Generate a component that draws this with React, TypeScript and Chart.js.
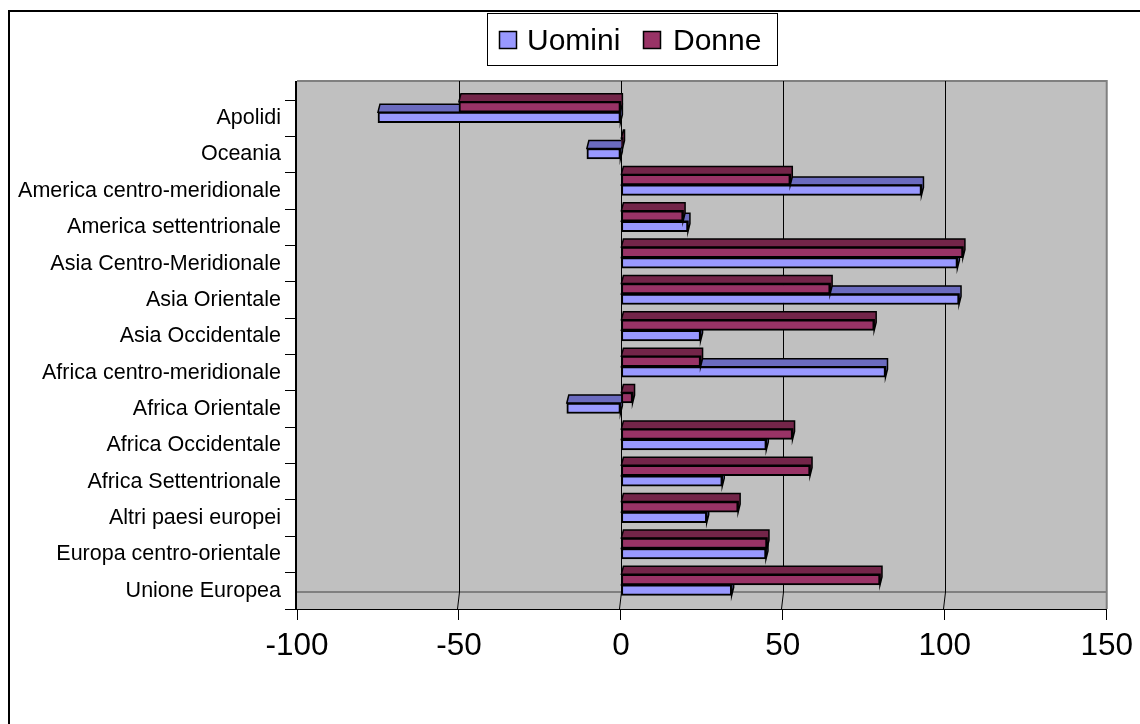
import React, { useEffect, useRef } from 'react';
import { Chart, registerables } from 'chart.js';

Chart.register(...registerables);

const categories = [
  'Apolidi',
  'Oceania',
  'America centro-meridionale',
  'America settentrionale',
  'Asia Centro-Meridionale',
  'Asia Orientale',
  'Asia Occidentale',
  'Africa centro-meridionale',
  'Africa Orientale',
  'Africa Occidentale',
  'Africa Settentrionale',
  'Altri paesi europei',
  'Europa centro-orientale',
  'Unione Europea',
];
const uomini = [-75, -10.5, 92.8, 20.7, 103.9, 104.4, 24.6, 81.7, -16.7, 44.9, 31.3, 26.5, 44.8, 34.2];
const donne = [-50, 0.5, 52.3, 19.2, 105.6, 64.6, 78.2, 24.6, 3.6, 53, 58.4, 36.2, 45.1, 80];
const xMin = -100;
const xMax = 150;
const xStep = 50;

const FONT = '"Liberation Sans", Arial, Helvetica, sans-serif';
const UOMINI_FRONT = '#9999FF';
const UOMINI_TOP = '#6B6BBF';
const DONNE_FRONT = '#993366';
const DONNE_TOP = '#732549';
const WALL_TOP = 81;
const FLOOR_Y = 592;
const SHIFT_Y = -6;
const DEPTH_X = 2;
const DEPTH_Y = 8;

const wallPlugin = {
  id: 'wall',
  beforeDraw(chart: any) {
    const { ctx, chartArea } = chart;
    const { left, right, bottom } = chartArea;
    ctx.save();
    ctx.fillStyle = '#FFFFFF';
    ctx.fillRect(0, 0, chart.width, chart.height);
    ctx.fillStyle = '#C0C0C0';
    ctx.fillRect(left, WALL_TOP, right - left, bottom - WALL_TOP);
    ctx.strokeStyle = '#808080';
    ctx.lineWidth = 2;
    ctx.beginPath();
    ctx.moveTo(left, WALL_TOP);
    ctx.lineTo(right, WALL_TOP);
    ctx.lineTo(right, bottom);
    ctx.stroke();
    ctx.beginPath();
    ctx.moveTo(left, FLOOR_Y);
    ctx.lineTo(right, FLOOR_Y);
    ctx.stroke();
    const xs = chart.scales.x;
    ctx.strokeStyle = '#000000';
    ctx.lineWidth = 1;
    xs.ticks.forEach((t: any, i: number) => {
      if (i === 0 || i === xs.ticks.length - 1) return;
      const px = Math.round(xs.getPixelForValue(t.value)) + 0.5;
      ctx.beginPath();
      ctx.moveTo(px, WALL_TOP);
      ctx.lineTo(px, FLOOR_Y);
      ctx.lineTo(px - 2, bottom);
      ctx.stroke();
    });
    ctx.lineWidth = 2;
    ctx.beginPath();
    ctx.moveTo(left - 1, WALL_TOP);
    ctx.lineTo(left - 1, bottom);
    ctx.stroke();
    ctx.restore();
  },
  beforeDatasetsDraw(chart: any) {
    chart.ctx.save();
    chart.ctx.translate(0, SHIFT_Y);
  },
  beforeDatasetDraw(chart: any, args: any) {
    const { ctx } = chart;
    const ds = chart.data.datasets[args.index];
    ctx.save();
    ctx.lineWidth = 1.5;
    ctx.strokeStyle = '#000000';
    ctx.fillStyle = ds.topColor;
    args.meta.data.forEach((el: any) => {
      const x1 = Math.min(el.x, el.base);
      const x2 = Math.max(el.x, el.base);
      const top = el.y - el.height / 2;
      const bot = el.y + el.height / 2;
      ctx.beginPath();
      ctx.moveTo(x1, top);
      ctx.lineTo(x1 + DEPTH_X, top - DEPTH_Y);
      ctx.lineTo(x2 + DEPTH_X, top - DEPTH_Y);
      ctx.lineTo(x2 + DEPTH_X, bot - DEPTH_Y);
      ctx.lineTo(x2, bot);
      ctx.lineTo(x2, top);
      ctx.closePath();
      ctx.fill();
      ctx.stroke();
    });
    ctx.restore();
  },
  afterDatasetsDraw(chart: any) {
    chart.ctx.restore();
  },
  afterDraw(chart: any) {
    const { ctx } = chart;
    ctx.save();
    ctx.strokeStyle = '#000000';
    ctx.lineWidth = 2;
    ctx.beginPath();
    ctx.moveTo(9, chart.height + 5);
    ctx.lineTo(9, 11);
    ctx.lineTo(chart.width + 5, 11);
    ctx.stroke();
    ctx.fillStyle = '#FFFFFF';
    ctx.fillRect(487, 13, 290, 52);
    ctx.lineWidth = 1;
    ctx.strokeRect(487.5, 13.5, 290, 52);
    const items = [
      { label: 'Uomini', color: UOMINI_FRONT, sx: 499, tx: 527 },
      { label: 'Donne', color: DONNE_FRONT, sx: 643, tx: 673 },
    ];
    ctx.font = `30px ${FONT}`;
    ctx.textBaseline = 'alphabetic';
    ctx.textAlign = 'left';
    items.forEach((it) => {
      ctx.fillStyle = it.color;
      ctx.fillRect(it.sx, 31, 18, 18);
      ctx.lineWidth = 1.5;
      ctx.strokeStyle = '#000000';
      ctx.strokeRect(it.sx + 0.5, 31.5, 17, 17);
      ctx.fillStyle = '#000000';
      ctx.fillText(it.label, it.tx, 50);
    });
    ctx.restore();
  },
};

export default function App() {
  const ref = useRef<HTMLCanvasElement | null>(null);
  useEffect(() => {
    if (!ref.current) return;
    const chart = new Chart(ref.current, {
      type: 'bar',
      data: {
        labels: categories,
        datasets: [
          {
            label: 'Donne',
            data: donne,
            backgroundColor: DONNE_FRONT,
            borderColor: '#000000',
            borderWidth: 2,
            borderSkipped: false,
            barThickness: 10.5,
            topColor: DONNE_TOP,
          } as any,
          {
            label: 'Uomini',
            data: uomini,
            backgroundColor: UOMINI_FRONT,
            borderColor: '#000000',
            borderWidth: 2,
            borderSkipped: false,
            barThickness: 10.5,
            topColor: UOMINI_TOP,
          } as any,
        ],
      },
      options: {
        indexAxis: 'y',
        animation: false,
        responsive: false,
        devicePixelRatio: 1,
        layout: { padding: { left: 0, right: 33, top: 100, bottom: 0 } },
        plugins: {
          legend: { display: false },
          tooltip: { enabled: false },
          title: { display: false },
        },
        scales: {
          x: {
            type: 'linear',
            min: xMin,
            max: xMax,
            afterFit(scale: any) {
              scale.height = 724 - 609;
            },
            ticks: {
              stepSize: xStep,
              color: '#000000',
              font: { family: FONT, size: 31.5 },
              padding: 7,
              maxRotation: 0,
            },
            grid: {
              display: true,
              drawOnChartArea: false,
              drawTicks: true,
              tickLength: 11,
              color: '#000000',
            },
            border: { display: true, color: '#000000', width: 1 },
          },
          y: {
            type: 'category',
            afterFit(scale: any) {
              scale.width = 297;
            },
            ticks: {
              color: '#000000',
              font: { family: FONT, size: 21.5 },
              padding: 4,
              autoSkip: false,
            },
            grid: {
              display: true,
              offset: true,
              drawOnChartArea: false,
              drawTicks: true,
              tickLength: 12,
              color: '#000000',
            },
            border: { display: false },
          },
        },
      } as any,
      plugins: [wallPlugin],
    });
    return () => chart.destroy();
  }, []);
  return (
    <div style={{ position: 'fixed', left: 0, top: 0, width: 1140, height: 724, background: '#fff' }}>
      <canvas ref={ref} width={1140} height={724} style={{ width: 1140, height: 724, display: 'block' }} />
    </div>
  );
}
